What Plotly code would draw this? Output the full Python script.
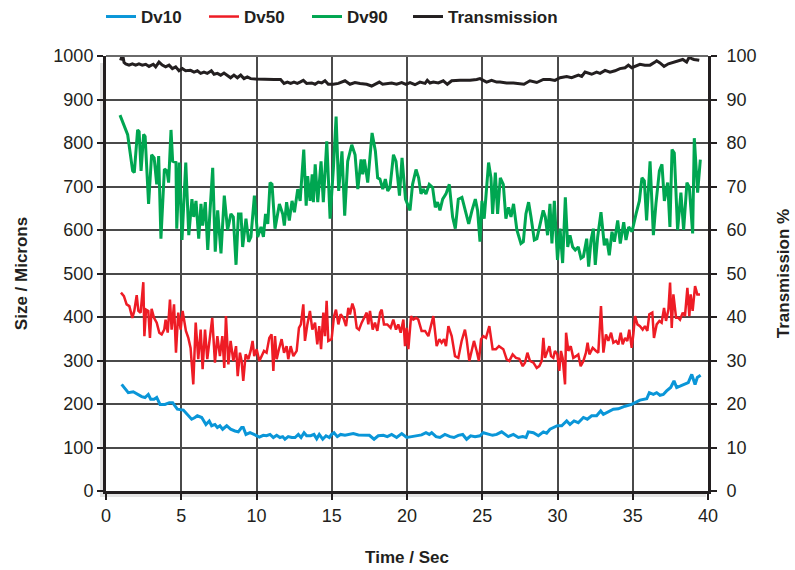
import plotly.graph_objects as go

# ---------------- data ----------------
t90 = [0.93, 1.44, 1.77, 1.88, 2.1, 2.2, 2.33, 2.5, 2.6, 2.83, 3.03, 3.2, 3.37, 3.5, 3.65, 3.88, 4.05, 4.16, 4.32, 4.43,
       4.65, 4.7, 4.87, 5.05, 5.3, 5.5, 5.71, 5.83, 5.98, 6.16, 6.31, 6.42, 6.6, 6.76, 6.9, 7.09, 7.26, 7.42, 7.64, 7.86,
       8.08, 8.3, 8.46, 8.64, 8.8, 8.97, 9.08, 9.3, 9.48, 9.63, 9.86, 10.08,
       10.3, 10.46, 10.6, 10.75, 10.9, 11.03, 11.23, 11.52, 11.74, 11.85, 12.0, 12.18, 12.36, 12.52, 12.74, 12.9, 13.14,
       13.3, 13.4, 13.56, 13.7, 13.78, 13.9, 14.07, 14.29, 14.44, 14.67, 14.89, 15.11, 15.29, 15.46, 15.68, 15.86, 16.06,
       16.33, 16.55, 16.73, 16.95, 17.06, 17.17, 17.39, 17.68, 17.9, 18.05, 18.2, 18.39, 18.56, 18.72, 18.87, 19.1, 19.27,
       19.5, 19.67, 19.9,
       20.2, 20.37, 20.6, 20.77, 20.93, 21.08, 21.26, 21.48, 21.7, 21.88, 22.03, 22.19, 22.37, 22.59, 22.81, 23.03, 23.21,
       23.41, 23.65, 23.92, 24.1, 24.32, 24.54, 24.69, 24.85, 24.98, 25.13, 25.42, 25.58, 25.69, 25.87, 26.02, 26.2, 26.4,
       26.57, 26.75, 26.91, 27.08, 27.3, 27.57, 27.73, 27.9, 28.08, 28.24, 28.46, 28.63, 28.79, 29.05, 29.19, 29.34, 29.5,
       29.63, 29.79,
       30.0, 30.17, 30.34, 30.52, 30.68, 30.83, 31.01, 31.18, 31.38, 31.56, 31.72, 31.94, 32.07, 32.23, 32.38, 32.51,
       32.67, 32.89, 33.11, 33.27, 33.44, 33.62, 33.78, 34.0, 34.17, 34.4, 34.55, 34.73, 34.95, 35.22, 35.44, 35.61, 35.77,
       35.92, 36.15, 36.37, 36.54, 36.77, 36.94, 37.1, 37.32, 37.47, 37.61, 37.76, 37.98, 38.2, 38.38, 38.6, 38.76, 38.98,
       39.09, 39.31, 39.49]
dv90 = [864, 819, 736, 732, 830, 826, 736, 820, 815, 660, 773, 766, 705, 770, 580, 740, 736, 709, 830, 758,
        755, 603, 755, 577, 755, 588, 671, 630, 667, 580, 660, 610, 664, 554, 637, 743, 550, 645, 546, 679,
        600, 637, 630, 520, 637, 637, 561, 626, 573, 584, 679, 584,
        607, 584, 637, 614, 709, 705, 603, 660, 637, 610, 664, 622, 667, 641, 694, 667, 785,
        656, 724, 667, 728, 664, 751, 664, 758, 664, 804, 626, 743, 861, 690, 781, 633, 758,
        796, 773, 694, 762, 728, 762, 709, 823, 781, 720, 717, 694, 717, 690, 698, 773, 758,
        679, 766, 671,
        645, 705, 739, 720, 683, 694, 683, 705, 698, 652, 664, 645, 671, 683, 705, 630, 603,
        671, 675, 641, 614, 645, 671, 645, 573, 667, 626, 755, 720, 637, 732, 637, 720, 705,
        626, 652, 630, 660, 600, 569, 573, 637, 664, 630, 577, 580, 607, 645, 630, 588, 660,
        569, 667,
        531, 603, 524, 675, 561, 588, 561, 554, 561, 535, 539, 580, 516, 577, 603, 520,
        584, 641, 565, 580, 542, 596, 573, 622, 569, 618, 577, 607, 596, 637, 667, 720, 713,
        622, 758, 588, 660, 736, 751, 667, 709, 607, 785, 777, 600, 686, 600, 709, 698, 592,
        811, 686, 762]

t50 = [0.995, 1.19, 1.37, 1.55, 1.75, 1.88, 2.04, 2.15, 2.3, 2.48, 2.55, 2.66, 2.81, 2.92, 3.03, 3.19, 3.37, 3.54, 3.7,
       3.87, 3.96, 4.1, 4.25, 4.36, 4.52, 4.65, 4.8, 4.96, 5.09, 5.31, 5.47, 5.62, 5.8, 5.96, 6.13, 6.29, 6.42, 6.58, 6.73,
       6.91, 7.06, 7.24, 7.4, 7.57, 7.73, 7.86, 7.97, 8.13, 8.28, 8.46, 8.64, 8.75, 8.9, 9.01, 9.12, 9.28, 9.46, 9.61, 9.74,
       9.85, 10.01, 10.19, 10.34, 10.5, 10.67, 10.85, 11.0, 11.12, 11.23, 11.34, 11.49, 11.67, 11.83, 12.0, 12.11, 12.27,
       12.45, 12.67, 12.82, 12.95, 13.11,
       13.22, 13.38, 13.55, 13.71, 13.89, 14.04, 14.17, 14.29, 14.44, 14.55, 14.66, 14.77, 14.99, 15.15, 15.28, 15.44,
       15.59, 15.77, 15.95, 16.1, 16.21, 16.37, 16.5, 16.66, 16.81, 16.99, 17.16, 17.32, 17.43, 17.54, 17.72, 17.87, 18.03,
       18.21, 18.32, 18.47, 18.69, 18.91, 19.09, 19.27, 19.42, 19.58, 19.76, 19.87, 19.98, 20.09, 20.27, 20.42, 20.6,
       20.75, 20.97, 21.2, 21.42, 21.59, 21.75, 21.97, 22.15, 22.3, 22.46, 22.59, 22.75, 22.97, 23.19, 23.41, 23.63, 23.85,
       23.96, 24.14, 24.3, 24.45, 24.63, 24.78, 24.92, 25.07, 25.25, 25.47, 25.69, 25.91, 26.11,
       26.4, 26.62, 26.8, 27.02, 27.24, 27.46, 27.69, 27.84, 28.0, 28.17, 28.4, 28.62, 28.79, 28.95, 29.06, 29.17, 29.28,
       29.46, 29.57, 29.72, 29.83, 29.99, 30.12, 30.23, 30.34, 30.5, 30.57, 30.72, 30.88, 31.05, 31.23, 31.38, 31.54,
       31.72, 31.89, 32.0, 32.12, 32.34, 32.56, 32.71, 32.89, 33.05, 33.22, 33.38, 33.56, 33.71, 33.89, 34.04, 34.2, 34.33,
       34.49, 34.64, 34.77, 34.93, 35.04, 35.15, 35.31, 35.48, 35.66, 35.81, 35.97, 36.1, 36.3, 36.41, 36.59, 36.77, 36.92,
       37.08, 37.21, 37.37, 37.48, 37.59, 37.7, 37.88, 38.03, 38.14, 38.32, 38.47, 38.63, 38.76, 38.85, 38.98, 39.14,
       39.29, 39.47]
dv50 = [456, 448, 429, 425, 398, 414, 450, 414, 410, 480, 356, 417, 414, 352, 419, 398, 387, 364, 360,
        371, 394, 364, 440, 371, 429, 318, 410, 371, 414, 368, 352, 329, 245, 387, 303, 371, 280, 371, 303,
        352, 398, 295, 356, 310, 356, 283, 402, 291, 345, 299, 333, 264, 318, 299, 253, 314, 303, 322, 345,
        310, 326, 299, 310, 322, 318, 352, 360, 276, 356, 303, 326, 349, 318, 333, 303, 333,
        310, 322, 375, 383, 429,
        345, 383, 414, 371, 387, 337, 379, 326, 410, 356, 437, 345, 349, 402, 417, 383,
        406, 398, 379, 421, 406, 431, 417, 375, 371, 387, 398, 410, 383, 414, 371, 387, 368,
        410, 417, 383, 383, 375, 394, 371, 383, 364, 394, 333, 375, 326, 402, 394, 398,
        394, 368, 368, 356, 383, 402, 333, 349, 341, 349, 333, 379, 356, 310, 306, 345, 371,
        349, 299, 322, 345, 322, 299, 349, 356, 352, 379, 326, 326, 333,
        326, 303, 299, 314, 306, 304, 287, 295, 318, 299, 295, 283, 287, 299, 352, 306, 318,
        333, 310, 306, 322, 314, 276, 322, 306, 245, 364, 322, 333, 306, 310, 314, 287,
        299, 318, 341, 314, 329, 322, 318, 425, 318, 360, 345, 364, 341, 345, 337, 364, 337,
        352, 345, 371, 329, 360, 402, 383, 379, 371, 379, 368, 406, 410, 352, 383, 391, 387,
        421, 391, 417, 479, 375, 452, 398, 398, 394, 410, 402, 467, 402, 452, 414, 471,
        452, 452]

t10 = [1.04, 1.26, 1.48, 1.81, 2.08, 2.37, 2.59, 2.81, 2.97, 3.19, 3.37, 3.59, 3.92, 4.21, 4.43, 4.58, 4.74, 5.14, 5.4,
       5.69, 5.91, 6.07, 6.36, 6.64, 6.86, 7.02, 7.24, 7.4, 7.57, 7.75, 8.02, 8.28, 8.57, 8.79, 9.01, 9.12, 9.3, 9.57,
       9.83, 10.19, 10.45, 10.67, 10.9, 11.12, 11.34, 11.56, 11.74, 11.89, 12.11, 12.34, 12.56, 12.78, 12.96, 13.16, 13.33,
       13.6, 13.82, 14.0, 14.17, 14.4, 14.62, 14.84, 14.99, 15.15, 15.37, 15.59, 15.88, 16.1, 16.43, 16.77, 17.1, 17.5,
       17.81, 18.09, 18.43, 18.69, 18.98, 19.31, 19.65, 19.98, 20.31, 20.64, 20.97, 21.26, 21.48, 21.64, 21.93, 22.19,
       22.52, 22.86, 23.12, 23.41, 23.7, 23.96, 24.23, 24.52, 24.85, 25.07, 25.4, 25.69, 25.96, 26.29,
       26.73, 27.07, 27.4, 27.69, 27.91, 28.06, 28.4, 28.73, 29.06, 29.28, 29.5, 29.72, 29.99, 30.28, 30.61, 30.83, 31.1,
       31.38, 31.72, 31.98, 32.27, 32.6, 32.87, 33.05, 33.27, 33.71, 34.04, 34.49, 34.93, 35.15, 35.48, 35.93, 36.1, 36.37,
       36.59, 36.81, 37.03, 37.25, 37.52, 37.74, 37.92, 38.14, 38.47, 38.69, 38.92, 39.03, 39.14, 39.29, 39.51]
dv10 = [245, 234, 226, 228, 222, 217, 215, 222, 211, 211, 215, 199, 199, 203, 203, 195, 188, 186, 176,
        165, 169, 173, 169, 153, 161, 150, 153, 146, 150, 142, 150, 142, 138, 136, 146, 146, 130, 134,
        130, 124, 128, 127, 130, 123, 128, 123, 125, 119, 125, 123, 123, 130, 123, 134, 127,
        127, 130, 120, 130, 119, 127, 123, 130, 134, 125, 130, 128, 130, 132, 129, 129, 128,
        119, 127, 128, 125, 130, 123, 132, 123, 125, 127, 129, 134, 130, 134, 125, 123,
        130, 125, 123, 128, 130, 119, 127, 125, 127, 134, 130, 128, 130, 136,
        125, 130, 123, 125, 123, 136, 134, 127, 136, 133, 142, 146, 150, 150, 161, 153, 161,
        157, 169, 165, 173, 173, 184, 176, 180, 188, 189, 195, 199, 203, 209, 212, 226, 222,
        226, 220, 222, 230, 238, 253, 238, 241, 245, 249, 268, 257, 245, 261, 266]

t_tr = [0.97, 1.1, 1.2, 1.31, 1.53, 1.75, 1.97, 2.19, 2.41, 2.64, 2.86, 3.14, 3.3, 3.52, 3.74, 3.96, 4.19, 4.41, 4.63,
        4.85, 5.07, 5.29, 5.62, 5.85, 6.07, 6.29, 6.51, 6.73, 7.0, 7.18, 7.4, 7.62, 7.84, 8.06, 8.28, 8.5, 8.73, 8.95,
        9.17, 9.39, 9.61, 9.94, 10.5, 11.16, 11.6, 11.83, 12.05, 12.27, 12.49, 12.71,
        12.89, 13.11, 13.33, 13.67, 13.89, 14.11, 14.33, 14.55, 14.77, 15.1, 15.44, 15.66, 15.88, 16.21, 16.54, 16.88,
        17.32, 17.65, 17.87, 18.16, 18.38, 18.65, 18.98, 19.31, 19.65, 19.93, 20.2, 20.53, 20.86, 21.2, 21.35, 21.53,
        21.75, 22.08, 22.41, 22.68, 22.97, 23.52, 24.19, 24.63, 24.85, 25.07, 25.29, 25.62, 25.96,
        26.18, 26.62, 27.07, 27.51, 27.77, 28.17, 28.62, 29.06, 29.5, 29.83, 30.17, 30.61, 30.94, 31.39, 31.61, 31.83,
        32.12, 32.27, 32.6, 32.83, 33.16, 33.49, 33.82, 34.15, 34.49, 34.71, 34.93, 35.15, 35.48, 35.81, 36.15, 36.48,
        36.59, 36.81, 37.08, 37.37, 37.7, 38.03, 38.32, 38.58, 38.76, 38.92, 39.07, 39.42]
trans = [99.0, 100.4, 98.5, 98.2, 97.9, 98.2, 97.9, 98.2, 97.9, 98.1, 97.6, 98.1, 97.5, 98.6, 97.9, 97.5, 97.9, 97.1, 97.5,
         96.6, 97.1, 96.6, 96.7, 96.3, 96.6, 96.0, 96.3, 96.0, 96.6, 95.8, 96.0, 95.6, 96.1, 95.6, 95.0, 95.6, 95.0, 95.6,
         94.8, 95.2, 94.8, 94.7, 94.6, 94.6, 94.6, 93.7, 94.0, 93.7, 94.0, 93.7,
         94.0, 94.4, 93.7, 93.8, 93.5, 94.0, 93.8, 94.3, 93.5, 93.5, 93.7, 94.0, 94.3, 93.5, 93.9, 93.7,
         93.5, 93.1, 93.5, 94.0, 93.5, 93.7, 93.8, 93.5, 93.9, 93.5, 93.9, 93.4, 94.0, 93.7, 94.4, 93.8,
         94.0, 93.8, 94.3, 93.5, 94.3, 94.4, 94.4, 94.6, 94.8, 94.4, 94.0, 94.4, 94.0,
         94.0, 93.8, 93.8, 93.7, 93.5, 94.3, 93.9, 94.6, 94.6, 94.4, 95.0, 95.3, 95.0, 95.6, 95.3, 96.3,
         96.0, 95.8, 96.3, 96.0, 96.7, 96.3, 96.6, 97.1, 97.3, 97.9, 97.3, 97.6, 98.1, 97.9, 97.9, 98.6,
         98.9, 98.4, 97.6, 98.2, 98.6, 98.9, 99.2, 98.6, 99.8, 99.4, 99.2, 99.0]

x_ticks = [0, 5, 10, 15, 20, 25, 30, 35, 40]
y_ticks = [0, 100, 200, 300, 400, 500, 600, 700, 800, 900, 1000]
y2_ticks = [0, 10, 20, 30, 40, 50, 60, 70, 80, 90, 100]

# ---------------- figure ----------------
FONT = "Liberation Sans, Arial, sans-serif"
BLUE, RED, GREEN, BLACK = "#0a96d8", "#ee1c25", "#00a651", "#231f20"

fig = go.Figure()
fig.add_trace(go.Scatter(x=t10, y=dv10, name="Dv10", mode="lines",
                         line=dict(color=BLUE, width=3)))
fig.add_trace(go.Scatter(x=t50, y=dv50, name="Dv50", mode="lines",
                         line=dict(color=RED, width=2.5)))
fig.add_trace(go.Scatter(x=t90, y=dv90, name="Dv90", mode="lines",
                         line=dict(color=GREEN, width=3)))
fig.add_trace(go.Scatter(x=t_tr, y=trans, name="Transmission", mode="lines", yaxis="y2",
                         legend="legend2", line=dict(color=BLACK, width=3)))

axis_common = dict(
    showline=True, linecolor=BLACK, linewidth=3,
    ticks="outside", ticklen=6, tickwidth=1.5, tickcolor=BLACK,
    tickfont=dict(family=FONT, size=18, color=BLACK),
    zeroline=False,
)
legend_font = dict(family=FONT, size=17, color=BLACK, weight="bold")

fig.update_layout(
    width=795, height=570,
    margin=dict(l=106, r=87, t=56, b=79, autoexpand=False),
    paper_bgcolor="white", plot_bgcolor="white",
    font=dict(family=FONT, color=BLACK),
    showlegend=True,
    legend=dict(orientation="h", x=-0.0083, xanchor="left", y=1.0897, yanchor="middle",
                font=legend_font, entrywidth=58, itemwidth=30, bgcolor="rgba(0,0,0,0)"),
    legend2=dict(orientation="h", x=0.5017, xanchor="left", y=1.0897, yanchor="middle",
                 font=legend_font, itemwidth=30, bgcolor="rgba(0,0,0,0)"),
    xaxis=dict(range=[0, 40], tickvals=x_ticks, showgrid=True, gridcolor="#4a4a4a", gridwidth=1.5,
               title=dict(text="Time / Sec", font=dict(family=FONT, size=17, weight="bold"), standoff=27),
               **axis_common),
    yaxis=dict(range=[0, 1000], tickvals=y_ticks, showgrid=True, gridcolor="#4a4a4a", gridwidth=1.5,
               title=dict(text="Size / Microns", font=dict(family=FONT, size=17, weight="bold"), standoff=22),
               **axis_common),
    yaxis2=dict(range=[0, 100], tickvals=y2_ticks, overlaying="y", side="right", showgrid=False,
                ticklabelstandoff=6,
                title=dict(text="Transmission %", font=dict(family=FONT, size=17, weight="bold"), standoff=22),
                **axis_common),
    shapes=[
        dict(type="rect", xref="paper", yref="paper", x0=-0.0100, x1=0, y0=-0.0138, y1=0.984,
             fillcolor="#e4e4e4", line=dict(width=0), layer="below"),
        dict(type="rect", xref="paper", yref="paper", x0=-0.0100, x1=0.9967, y0=-0.0138, y1=0,
             fillcolor="#e4e4e4", line=dict(width=0), layer="below"),
        dict(type="line", xref="paper", yref="paper", x0=0, x1=1, y0=1, y1=1,
             line=dict(color="#6a6a6a", width=2)),
    ],
)

fig.write_html("out.html", config={"displayModeBar": False},
               post_script="document.body.style.margin='0px';")
